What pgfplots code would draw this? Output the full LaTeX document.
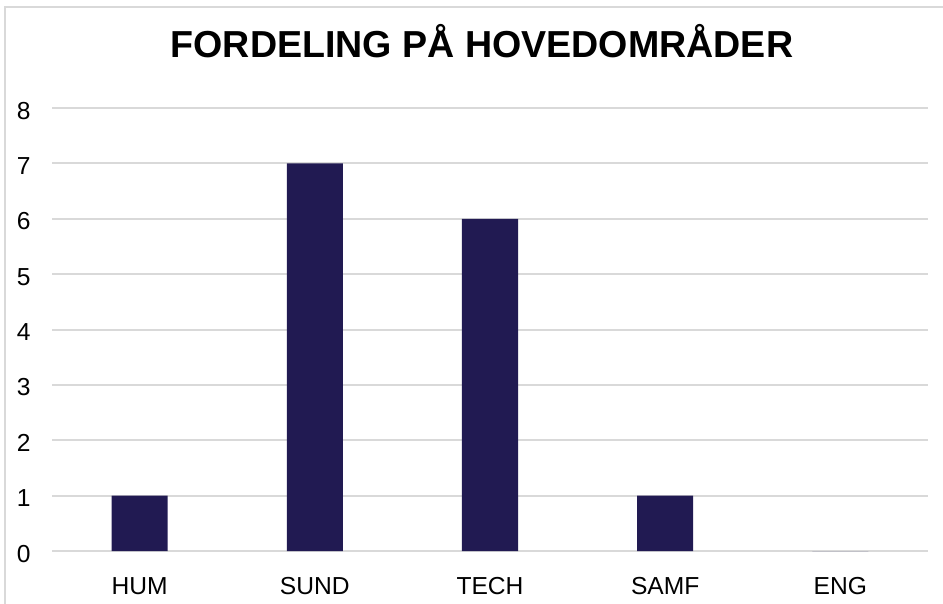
\documentclass[border=0pt]{standalone}
\usepackage{fontspec}
\setmainfont{Liberation Sans}
\usepackage{pgfplots}
\pgfplotsset{compat=1.18}
\definecolor{barnavy}{RGB}{33,26,82}
\definecolor{gridgray}{RGB}{217,217,217}
\definecolor{framegray}{RGB}{217,217,217}

\begin{document}
\begin{tikzpicture}
% canvas: 943 x 604 px, 1 px = 0.5pt, origin at top left
\path[use as bounding box] (0,0) rectangle (471.5pt,-302pt);
\draw[framegray, line width=1pt] (2.5pt,-302pt) -- (2.5pt,-3.5pt) -- (471.5pt,-3.5pt);
\node[font=\fontsize{18.8}{22}\selectfont\bfseries] at (241pt,-20.5pt) {FORDELING PÅ HOVEDOMRÅDER};
\begin{axis}[
    at={(26pt,-275.5pt)}, anchor=south west,
    scale only axis,
    width=438pt, height=221.5pt,
    xmin=-0.5, xmax=4.5,
    ymin=0, ymax=8,
    ytick={0,1,...,8},
    xtick=data,
    xticklabels={HUM,SUND,TECH,SAMF,ENG},
    axis line style={draw=none},
    major tick length=0pt,
    ymajorgrids,
    grid style={gridgray, line width=1pt},
    /pgf/number format/assume math mode=true,
    tick label style={font=\fontsize{12.3}{14}\selectfont},
    yticklabel style={anchor=east, inner sep=0pt, xshift=-10.5pt, yshift=-1.3pt},
    xticklabel style={anchor=base, inner sep=0pt, yshift=-21.5pt},
    ybar, bar width=28pt, bar shift=0pt,
    clip=false,
]
\addplot[fill=barnavy, draw=none] coordinates {(0,1) (1,7) (2,6) (3,1) (4,0)};
\end{axis}
\end{tikzpicture}
\end{document}
